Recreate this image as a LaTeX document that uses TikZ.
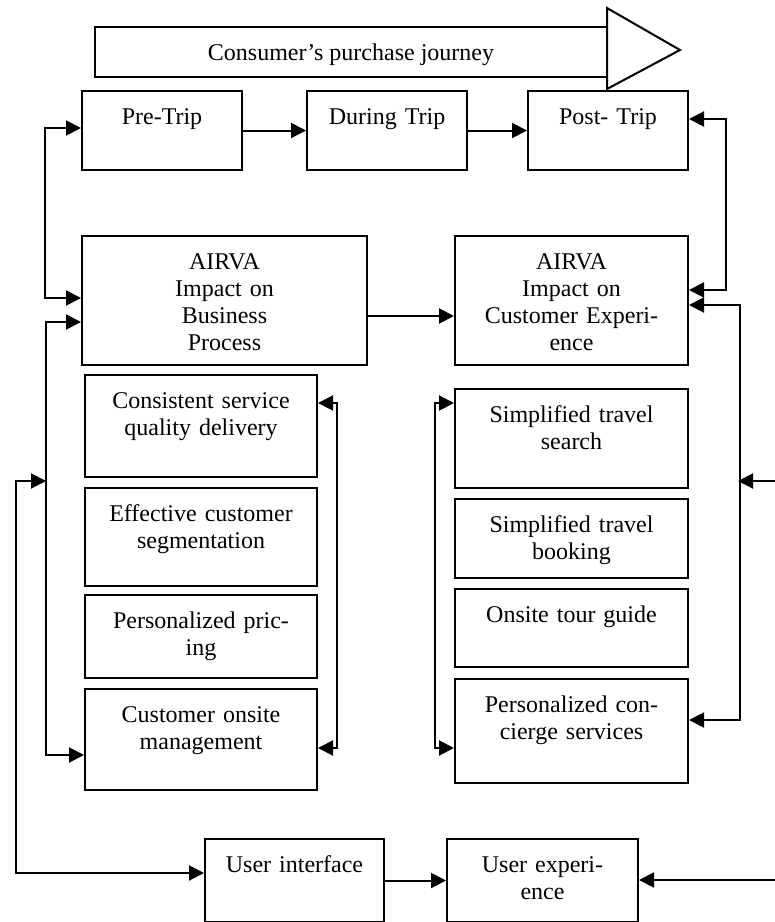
\documentclass[tikz,border=0pt]{standalone}
\usepackage{fontspec}
\setmainfont{Liberation Serif}
\usepackage{tikz}
\usetikzlibrary{arrows.meta, calc}

\begin{document}
\begin{tikzpicture}[x=0.5pt, y=-0.5pt, font=\fontsize{12}{13.6}\selectfont,
	box/.style={draw, line width=1pt, anchor=north west, align=center, inner sep=0pt, text height=16.5pt},
	link/.style={line width=1pt, -{Triangle[length=7.5pt, width=7.5pt]}},
	link2/.style={line width=1pt, {Triangle[length=7.5pt, width=7.5pt]}-{Triangle[length=7.5pt, width=7.5pt]}}]
			
			\useasboundingbox (0,0) rectangle (775,922);
			
			% Journey arrow
			\draw[line width=1pt] (95,27) rectangle (607,77);
			\draw[line width=1pt] (607,8) -- (680,50) -- (607,89) -- cycle;
			\node[anchor=base] (journey) at (351,60) {Consumer’s purchase journey};
			
			% Trip stages
			\node[box, text width=80pt, text depth=23pt] (pre) at (81,90) {Pre-Trip};
			\node[box, text width=80pt, text depth=23pt] (during) at (306,90) {During Trip};
			\node[box, text width=80pt, text depth=23pt] (post) at (527,90) {Post- Trip};
			
			% AIRVA impact
			\node[box, text width=142.5pt, text depth=48pt] (bp) at (81,235) {AIRVA\\Impact on\\Business\\Process};
			\node[box, text width=116.5pt, text depth=48pt] (ce) at (454,235) {AIRVA\\Impact on\\Customer Experi-\\ence};
			
			% Business process column
			\node[box, text width=116pt, text depth=34.5pt] (quality) at (84,374) {Consistent service\\quality delivery};
			\node[box, text width=116pt, text depth=32.5pt] (segment) at (84,487) {Effective customer\\segmentation};
			\node[box, text width=116pt, text depth=25pt] (pricing) at (84,594) {Personalized pric-\\ing};
			\node[box, text width=116pt, text depth=34pt] (onsite) at (84,688) {Customer onsite\\management};
			
			% Customer experience column
			\node[box, text width=116.5pt, text depth=33pt] (search) at (454,388) {Simplified travel\\search};
			\node[box, text width=116.5pt, text depth=23pt] (booking) at (454,498) {Simplified travel\\booking};
			\node[box, text width=116.5pt, text depth=22.5pt] (guide) at (454,588) {Onsite tour guide};
			\node[box, text width=116.5pt, text depth=35.5pt] (concierge) at (454,678) {Personalized con-\\cierge services};
			
			% User side
			\node[box, text width=89.5pt, text depth=25pt] (ui) at (204,838) {User interface};
			\node[box, text width=95.5pt, text depth=25pt] (ux) at (446,838) {User experi-\\ence};
			
			% Links
			\draw[link] (pre) -- (during);
			\draw[link] (during) -- (post);
			\draw[link] ([yshift=-7.75pt]bp.east) -- ([yshift=-7.75pt]ce.west);
			\draw[link] (ui) -- (ux);
			\draw[link2] ([yshift=1.25pt]pre.west) -- ++(-18.25pt,0) |- ([yshift=1.25pt]bp.west);
			\draw[link2] ([yshift=5.75pt]post.east) -- ++(18.25pt,0) |- ([yshift=5.25pt]ce.east);
			\draw[link2] ([yshift=-10.75pt]bp.west) -- ++(-17.5pt,0) |- ([yshift=-7.75pt]onsite.west);
			\draw[link2] ([yshift=-2.25pt]ce.east) -- ++(25.5pt,0) |- ([yshift=5.5pt]concierge.east);
			\draw[link2] ([yshift=11.5pt]quality.east) -- ++(9.5pt,0) |- ([yshift=-4.25pt]onsite.east);
			\draw[link2] ([yshift=17.75pt]search.west) -- ++(-9.5pt,0) |- ([yshift=-8.5pt]concierge.west);
			
			% Outer links
			\coordinate (leftjoin) at (46,481);
			\coordinate (rightjoin) at (738,481);
			\coordinate (rightin) at (775,481);
			\coordinate (bottomin) at (775,880);
			\draw[link2] (leftjoin) -- ++(-15pt,0) |- ([yshift=3.75pt]ui.west);
			\draw[link] (rightin) -- (rightjoin);
			\draw[link] (bottomin) -- (bottomin -| ux.east);
			
		\end{tikzpicture}
\end{document}
